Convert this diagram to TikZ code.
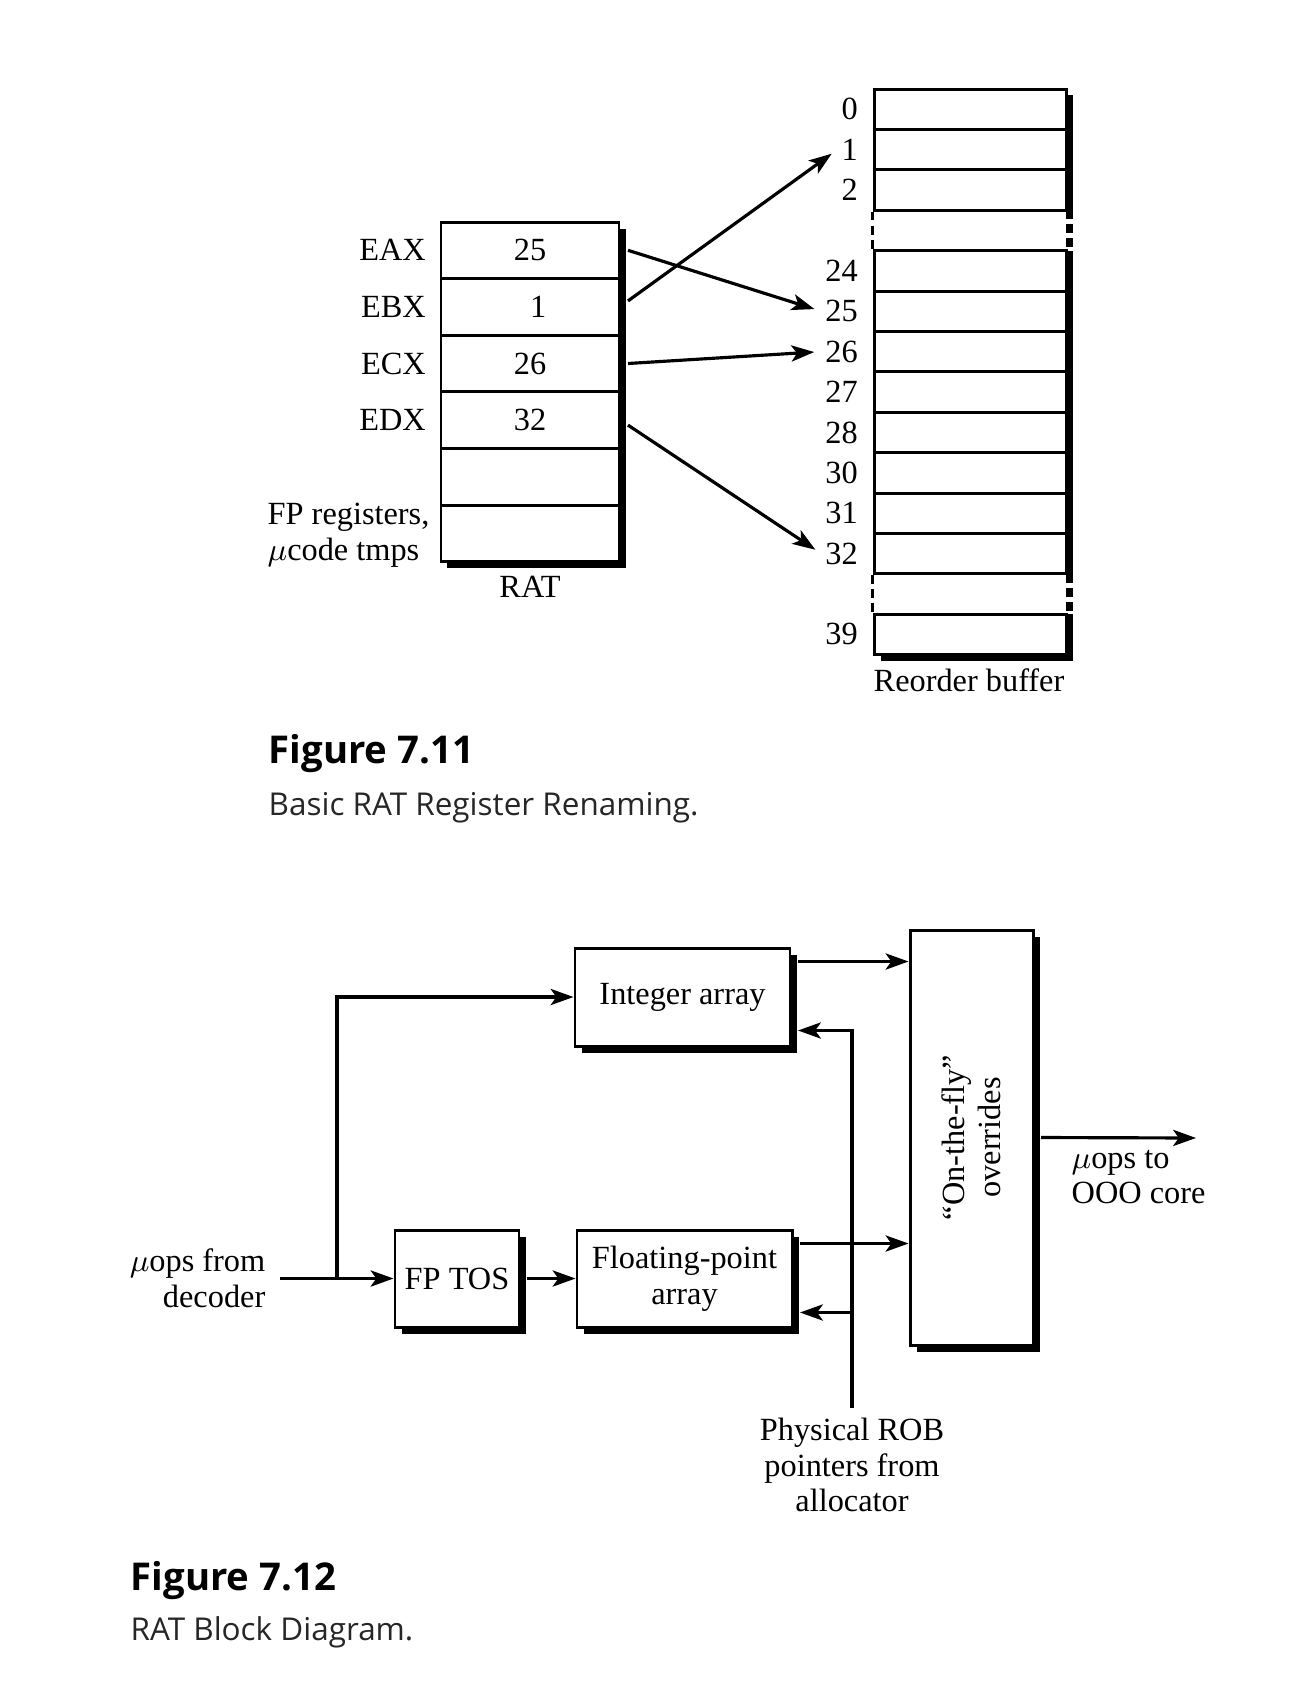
\documentclass[tikz,border=0pt]{standalone}
\usepackage{fontspec}
\setmainfont{Liberation Serif}
\newfontfamily\capsans{Open Sans}
\usetikzlibrary{arrows.meta,shadows}

\tikzset{
  ratcell/.style={draw,line width=0.85pt,minimum width=1.78cm,minimum height=0.566cm,inner sep=0pt},
  robcell/.style={draw,line width=0.85pt,minimum width=1.92cm,minimum height=0.404cm,inner sep=0pt},
  numlab/.style={anchor=east,inner sep=1pt},
  blk/.style={draw,line width=0.85pt,fill=white,inner sep=0pt,align=center,
    general shadow={fill=black,shadow xshift=0.065cm,shadow yshift=-0.065cm}},
  arr/.style={line width=0.9pt,-{Stealth[length=6.5pt,width=4.6pt,inset=1.6pt]}},
  figno/.style={anchor=base west,inner sep=0pt,font=\capsans\bfseries\fontsize{10.9}{13}\selectfont},
  figcap/.style={anchor=base west,inner sep=0pt,text=black!85,font=\capsans\fontsize{8.95}{11}\selectfont}
}

\begin{document}
\begin{tikzpicture}[font=\fontsize{9.2}{10.2}\selectfont]
\useasboundingbox (0,0) rectangle (12.96,-16.88);

% Figure 7.11
\fill (4.47,-5.616) rectangle (6.255,-5.681);
\fill (6.19,-2.285) rectangle (6.255,-5.681);
\foreach \i/\v in {1/25,2/\hphantom{2}1,3/26,4/32,5/{},6/{}}
  \node[ratcell] (rat\i) at (5.30,{-2.22-0.566*(\i-0.5)}) {\v};
\foreach \i/\r in {1/EAX,2/EBX,3/ECX,4/EDX}
  \node[anchor=east,inner sep=1pt] (\r) at (4.30,{-2.22-0.566*(\i-0.5)}) {\r};
\node[anchor=west,align=left,inner sep=0pt] (fpreg) at (2.67,-5.35) {FP registers,\\$\mu$code tmps};
\node (ratlab) at (5.30,-5.87) {RAT};

\fill (10.66,-0.95) rectangle (10.725,-2.102);
\draw[line width=0.065cm,dash pattern=on 2.5pt off 1.5pt] (10.6925,-2.102) -- (10.6925,-2.506);
\fill (10.66,-2.506) rectangle (10.725,-5.738);
\draw[line width=0.065cm,dash pattern=on 2.5pt off 1.5pt] (10.6925,-5.738) -- (10.6925,-6.142);
\fill (10.66,-6.142) rectangle (10.725,-6.611);
\fill (8.805,-6.546) rectangle (10.725,-6.611);
\foreach \k/\n in {0/0,1/1,2/2,4/24,5/25,6/26,7/27,8/28,9/30,10/31,11/32,13/39} {
  \node[robcell] (rob\n) at (9.70,{-0.89-0.404*(\k+0.5)}) {};
  \node[numlab] (n\n) at (8.62,{-0.89-0.404*(\k+0.5)}) {\n};
}
\draw[line width=0.85pt,dash pattern=on 2.5pt off 1.5pt] (rob2.south west) -- (rob24.north west);
\draw[line width=0.85pt,dash pattern=on 2.5pt off 1.5pt] (rob32.south west) -- (rob39.north west);
\node (roblab) at (9.69,-6.80) {Reorder buffer};

\draw[arr,shorten >=2pt] ([xshift=0.075cm]rat1.east) -- (n25.west);
\draw[arr,shorten >=2pt] ([xshift=0.075cm,yshift=0.06cm]rat2.east) -- (n1.west);
\draw[arr,shorten >=2pt] ([xshift=0.075cm]rat3.east) -- (n26.west);
\draw[arr,shorten >=2pt] ([xshift=0.075cm,yshift=-0.05cm]rat4.east) -- (n32.west);

\node[figno] (fig11) at (2.68,-7.635) {Figure 7.11};
\node[figcap] (cap11) at (2.68,-8.15) {Basic RAT Register Renaming.};

% Figure 7.12
\node[blk,minimum width=2.15cm,minimum height=0.98cm] (intarr) at (6.825,-9.97) {Integer array};
\node[blk,minimum width=1.24cm,minimum height=0.97cm] (fptos) at (4.57,-12.785) {FP TOS};
\node[blk,minimum width=2.15cm,minimum height=0.97cm] (fparr) at (6.845,-12.785) {Floating-point\\array};
\node[blk,minimum width=1.23cm,minimum height=4.15cm] (otf) at (9.715,-11.375) {};
\node[rotate=90,align=center] (otftxt) at (otf.center) {``On-the-fly''\\overrides};

\node[anchor=east,align=right,inner sep=0pt] (uopsin) at (2.66,-12.785) {$\mu$ops from\\decoder};
\coordinate (split) at (3.37,-12.785);
\draw[arr] ([xshift=0.14cm]uopsin.east) -- (fptos.west);
\draw[arr] (split) |- (intarr.west);
\draw[arr] ([xshift=0.065cm]fptos.east) -- (fparr.west);
\draw[arr] ([shift={(0.065,-0.15)}]intarr.north east) coordinate (io) -- (io -| otf.west);
\draw[arr] ([shift={(0.065,-0.15)}]fparr.north east) coordinate (fo) -- (fo -| otf.west);

\node[align=center,anchor=north,inner sep=0pt] (robptr) at (8.52,-14.17) {Physical ROB\\pointers from\\allocator};
\coordinate (fpb) at ([shift={(0.065,0.16)}]fparr.south east);
\draw[arr] ([yshift=0.09cm]robptr.north) |- ([shift={(0.065,0.17)}]intarr.south east);
\draw[arr] (robptr.north |- fpb) -- (fpb);

\coordinate (uopsout) at (11.96,-11.38);
\draw[arr] ([xshift=0.065cm]otf.east) -- (uopsout);
\node[anchor=west,align=left,inner sep=0pt] (uopsto) at (10.71,-11.77) {$\mu$ops to\\OOO core};

\node[figno] (fig12) at (1.30,-15.90) {Figure 7.12};
\node[figcap] (cap12) at (1.30,-16.40) {RAT Block Diagram.};
\end{tikzpicture}
\end{document}
